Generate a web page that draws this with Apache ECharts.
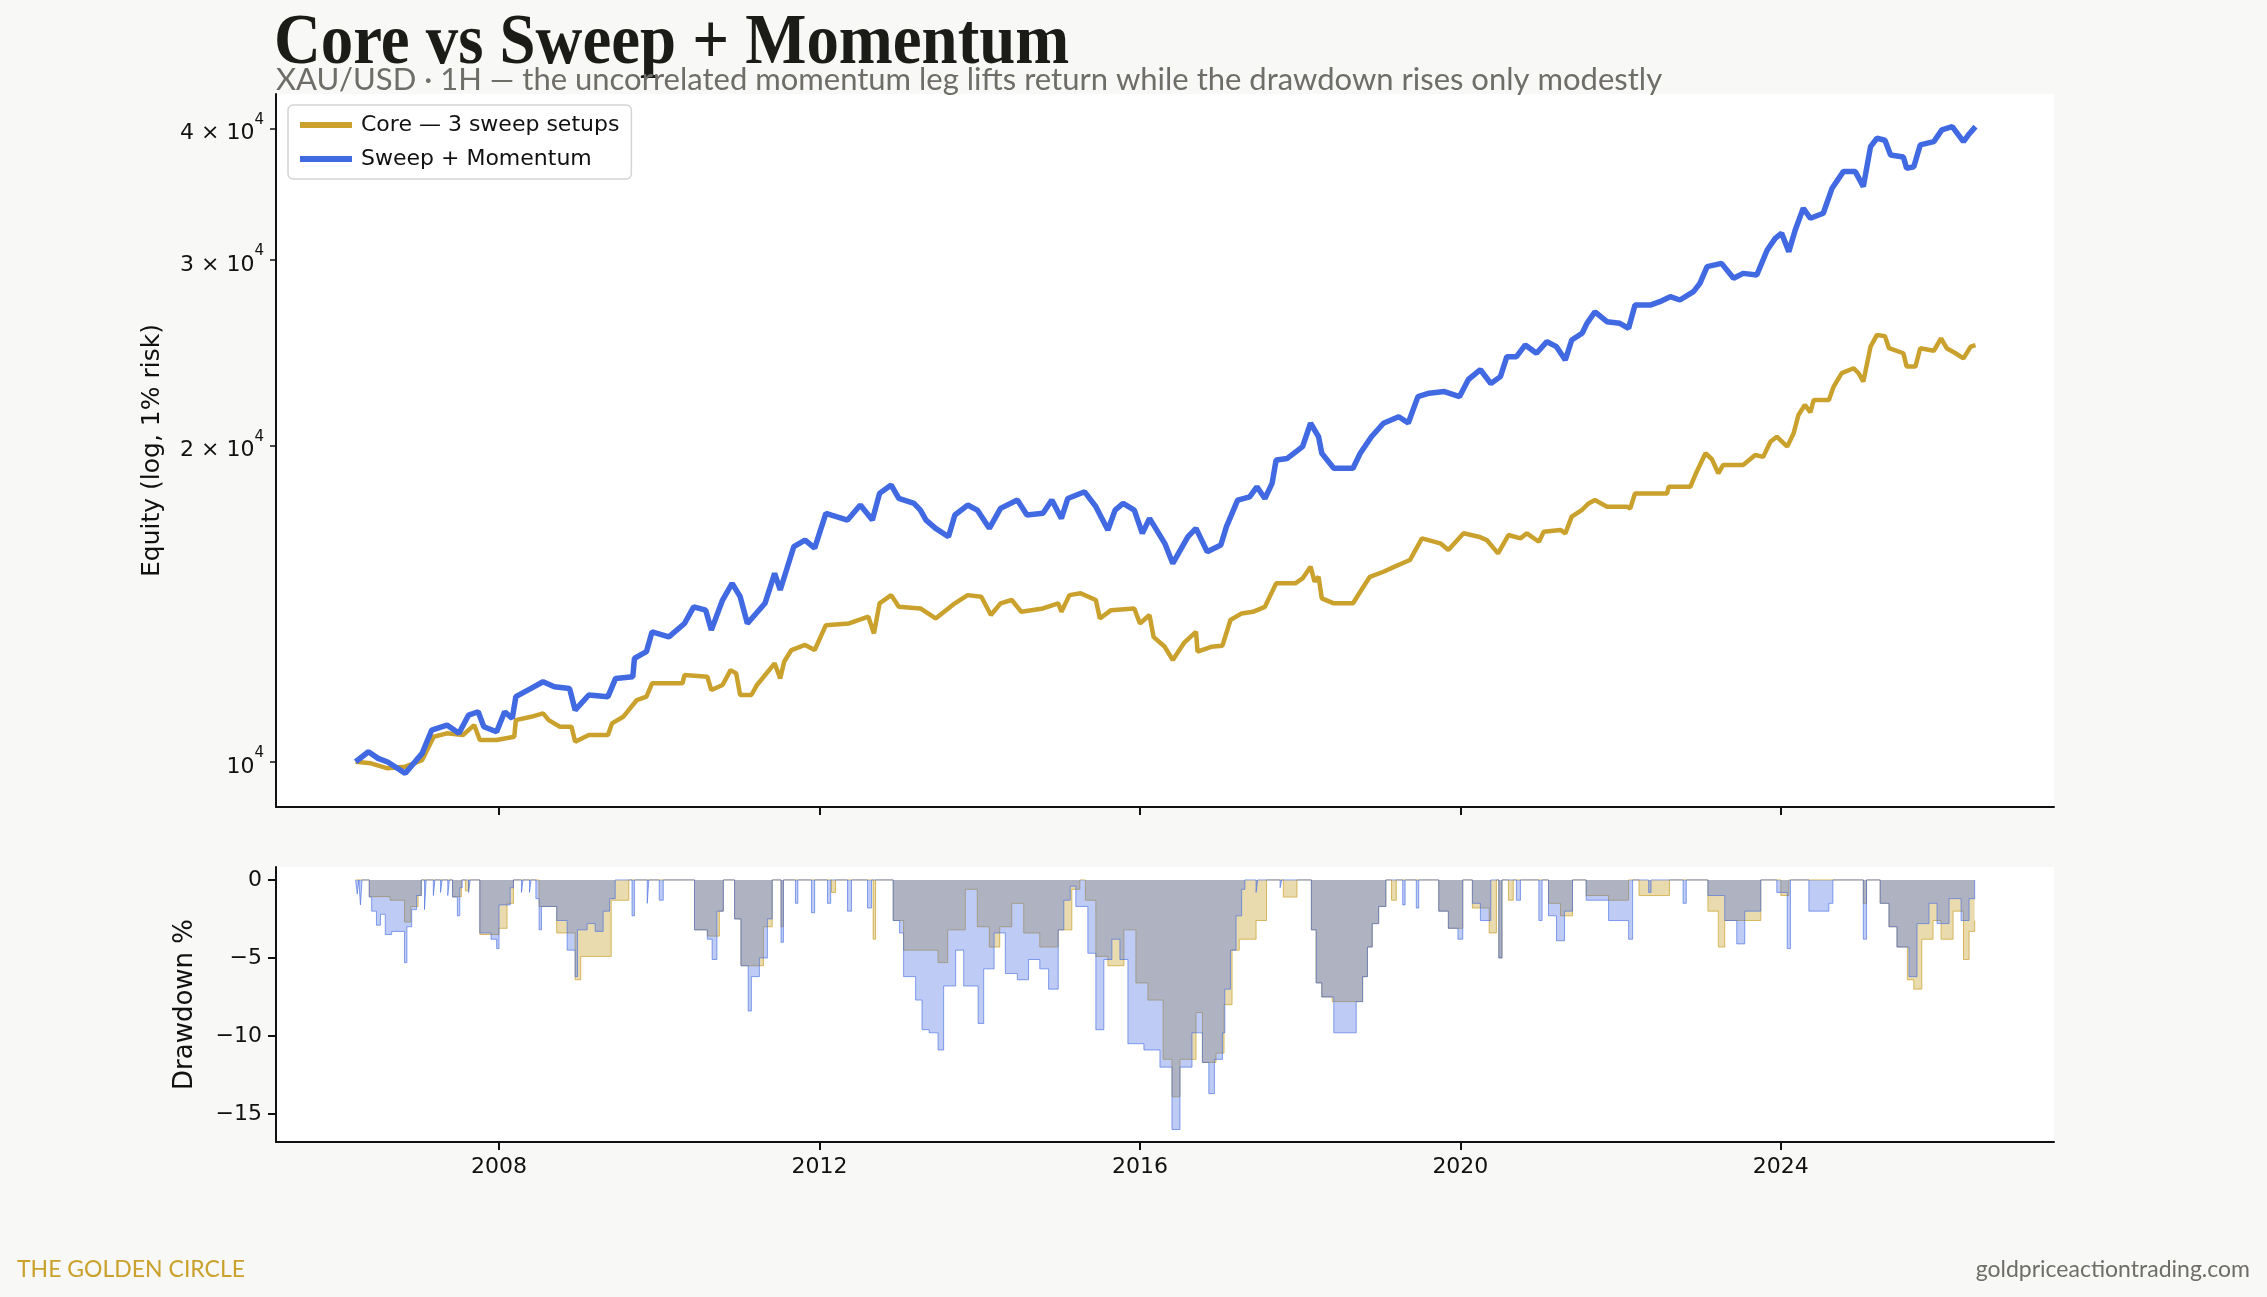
<!DOCTYPE html>
<html>
<head>
<meta charset="utf-8">
<script src="https://cdn.jsdelivr.net/npm/echarts@6/dist/echarts.min.js"></script>
<style>
  html, body { margin: 0; padding: 0; background: #f8f8f6; }
  #chart { width: 2267px; height: 1297px; }
</style>
</head>
<body>
<div id="chart"></div>
<script>
// Equity curves (decimal year, equity $)
const sweepYears = [2006.21, 2006.37, 2006.49, 2006.61, 2006.83, 2007.04, 2007.16, 2007.35, 2007.50, 2007.62, 2007.74, 2007.81, 2007.97, 2008.07, 2008.165, 2008.21, 2008.40, 2008.55, 2008.69, 2008.88, 2008.95, 2009.12, 2009.36, 2009.455, 2009.67, 2009.69, 2009.84, 2009.91, 2010.12, 2010.315, 2010.43, 2010.58, 2010.65, 2010.79, 2010.91, 2011.01, 2011.10, 2011.32, 2011.44, 2011.51, 2011.68, 2011.82, 2011.94, 2012.08, 2012.35, 2012.51, 2012.66, 2012.75, 2012.895, 2012.99, 2013.18, 2013.26, 2013.33, 2013.45, 2013.61, 2013.69, 2013.85, 2013.97, 2014.12, 2014.26, 2014.47, 2014.59, 2014.79, 2014.90, 2015.02, 2015.10, 2015.31, 2015.45, 2015.60, 2015.69, 2015.79, 2015.93, 2016.03, 2016.12, 2016.31, 2016.41, 2016.60, 2016.70, 2016.84, 2017.01, 2017.08, 2017.22, 2017.37, 2017.46, 2017.56, 2017.65, 2017.70, 2017.84, 2018.03, 2018.13, 2018.23, 2018.27, 2018.42, 2018.66, 2018.75, 2018.89, 2019.04, 2019.23, 2019.35, 2019.47, 2019.61, 2019.80, 2019.99, 2020.10, 2020.25, 2020.38, 2020.50, 2020.58, 2020.70, 2020.81, 2020.95, 2021.08, 2021.20, 2021.31, 2021.39, 2021.52, 2021.58, 2021.68, 2021.83, 2021.99, 2022.10, 2022.18, 2022.37, 2022.49, 2022.62, 2022.74, 2022.91, 2022.99, 2023.08, 2023.26, 2023.41, 2023.53, 2023.70, 2023.83, 2023.93, 2024.01, 2024.10, 2024.18, 2024.28, 2024.37, 2024.53, 2024.64, 2024.78, 2024.93, 2025.03, 2025.12, 2025.20, 2025.30, 2025.37, 2025.53, 2025.57, 2025.66, 2025.74, 2025.91, 2026.01, 2026.14, 2026.28, 2026.34, 2026.43];
const sweepEquity = [10006, 10228, 10081, 10000, 9756, 10192, 10725, 10843, 10649, 11083, 11164, 10803, 10686, 11164, 11003, 11538, 11749, 11921, 11791, 11749, 11205, 11580, 11538, 12009, 12053, 12545, 12731, 13299, 13153, 13543, 14046, 13943, 13348, 14256, 14786, 14361, 13543, 14154, 15111, 14574, 16027, 16255, 15968, 17234, 16982, 17550, 16982, 18004, 18336, 17805, 17614, 17358, 16982, 16677, 16376, 17172, 17550, 17358, 16677, 17422, 17742, 17172, 17234, 17742, 17045, 17805, 18066, 17486, 16616, 17358, 17614, 17358, 16497, 17045, 16140, 15446, 16376, 16677, 15845, 16081, 16739, 17742, 17870, 18266, 17805, 18403, 19372, 19435, 19944, 20991, 20380, 19657, 19024, 19024, 19657, 20380, 20991, 21292, 21000, 22251, 22420, 22500, 22251, 23100, 23600, 22900, 23246, 24284, 24284, 24914, 24466, 25093, 24822, 24107, 25186, 25559, 26121, 26792, 26218, 26121, 25837, 27189, 27189, 27390, 27690, 27491, 27997, 28510, 29571, 29785, 28828, 29140, 29040, 30672, 31463, 31813, 30560, 32042, 33601, 32875, 33240, 35112, 36411, 36411, 35233, 38455, 39163, 39000, 37757, 37600, 36672, 36800, 38597, 38883, 39890, 40177, 38883, 39446, 40177];

const coreYears = [2006.21, 2006.40, 2006.61, 2006.83, 2007.04, 2007.185, 2007.35, 2007.55, 2007.69, 2007.76, 2007.97, 2008.19, 2008.21, 2008.40, 2008.55, 2008.62, 2008.76, 2008.905, 2008.95, 2009.12, 2009.36, 2009.41, 2009.55, 2009.72, 2009.84, 2009.91, 2010.29, 2010.315, 2010.60, 2010.65, 2010.79, 2010.89, 2010.96, 2011.01, 2011.15, 2011.22, 2011.44, 2011.51, 2011.56, 2011.65, 2011.82, 2011.94, 2012.08, 2012.37, 2012.61, 2012.68, 2012.75, 2012.895, 2012.99, 2013.26, 2013.45, 2013.69, 2013.85, 2014.02, 2014.14, 2014.26, 2014.40, 2014.52, 2014.79, 2014.98, 2015.02, 2015.12, 2015.26, 2015.45, 2015.50, 2015.64, 2015.93, 2016.00, 2016.12, 2016.17, 2016.31, 2016.41, 2016.55, 2016.70, 2016.72, 2016.89, 2017.03, 2017.13, 2017.27, 2017.41, 2017.56, 2017.70, 2017.94, 2018.03, 2018.13, 2018.18, 2018.23, 2018.27, 2018.42, 2018.66, 2018.75, 2018.87, 2019.04, 2019.18, 2019.37, 2019.52, 2019.75, 2019.85, 2020.04, 2020.23, 2020.33, 2020.47, 2020.60, 2020.75, 2020.83, 2020.98, 2021.04, 2021.25, 2021.31, 2021.39, 2021.52, 2021.60, 2021.68, 2021.83, 2022.08, 2022.12, 2022.18, 2022.58, 2022.60, 2022.87, 2022.95, 2023.06, 2023.14, 2023.22, 2023.28, 2023.53, 2023.68, 2023.78, 2023.87, 2023.95, 2024.08, 2024.16, 2024.22, 2024.30, 2024.37, 2024.41, 2024.60, 2024.66, 2024.76, 2024.91, 2024.97, 2025.03, 2025.12, 2025.20, 2025.30, 2025.35, 2025.53, 2025.57, 2025.68, 2025.74, 2025.91, 2026.00, 2026.07, 2026.18, 2026.28, 2026.37, 2026.43];
const coreEquity = [10006, 9972, 9863, 9900, 10044, 10569, 10649, 10609, 10843, 10493, 10493, 10569, 10962, 11041, 11124, 10962, 10803, 10803, 10455, 10609, 10609, 10883, 11041, 11454, 11538, 11879, 11879, 12097, 12053, 11707, 11838, 12229, 12141, 11580, 11580, 11838, 12410, 12009, 12460, 12778, 12922, 12778, 13493, 13543, 13744, 13251, 14154, 14410, 14046, 13995, 13693, 14154, 14410, 14361, 13795, 14154, 14256, 13893, 13995, 14154, 13893, 14410, 14467, 14256, 13693, 13943, 13995, 13543, 13795, 13153, 12869, 12503, 12978, 13299, 12731, 12869, 12900, 13645, 13844, 13893, 14046, 14786, 14786, 14946, 15336, 14840, 15000, 14310, 14154, 14154, 14517, 15000, 15166, 15336, 15560, 16316, 16140, 15904, 16497, 16376, 16255, 15790, 16436, 16316, 16497, 16196, 16554, 16620, 16497, 17109, 17370, 17614, 17742, 17486, 17486, 17420, 18004, 18004, 18266, 18266, 18880, 19657, 19400, 18810, 19162, 19162, 19584, 19500, 20160, 20380, 19944, 20535, 21372, 21849, 21500, 22088, 22088, 22746, 23421, 23676, 23421, 22991, 24822, 25466, 25400, 24737, 24466, 23763, 23763, 24737, 24600, 25277, 24737, 24466, 24196, 24822, 24900];

// Drawdown from running peak, %
const sweepDDYears = [2006.21, 2006.23, 2006.25, 2006.27, 2006.29, 2006.38, 2006.41, 2006.47, 2006.52, 2006.58, 2006.66, 2006.82, 2006.85, 2006.91, 2006.97, 2007.03, 2007.07, 2007.09, 2007.18, 2007.20, 2007.27, 2007.29, 2007.36, 2007.38, 2007.42, 2007.48, 2007.51, 2007.54, 2007.62, 2007.64, 2007.76, 2007.90, 2007.97, 2008.00, 2008.14, 2008.18, 2008.28, 2008.30, 2008.38, 2008.40, 2008.46, 2008.50, 2008.53, 2008.72, 2008.85, 2008.95, 2008.98, 2009.10, 2009.20, 2009.30, 2009.38, 2009.45, 2009.66, 2009.69, 2009.85, 2009.87, 2010.00, 2010.05, 2010.44, 2010.60, 2010.66, 2010.72, 2010.80, 2010.94, 2011.02, 2011.11, 2011.15, 2011.25, 2011.35, 2011.41, 2011.52, 2011.55, 2011.70, 2011.73, 2011.90, 2011.94, 2012.10, 2012.14, 2012.35, 2012.40, 2012.60, 2012.65, 2012.92, 2013.00, 2013.05, 2013.20, 2013.28, 2013.37, 2013.48, 2013.55, 2013.70, 2013.80, 2013.98, 2014.05, 2014.18, 2014.32, 2014.47, 2014.61, 2014.75, 2014.86, 2014.98, 2015.05, 2015.13, 2015.20, 2015.35, 2015.45, 2015.55, 2015.65, 2015.75, 2015.85, 2016.05, 2016.25, 2016.40, 2016.50, 2016.65, 2016.78, 2016.86, 2016.93, 2017.03, 2017.06, 2017.13, 2017.20, 2017.27, 2017.31, 2017.45, 2017.47, 2017.75, 2017.77, 2018.14, 2018.20, 2018.27, 2018.42, 2018.70, 2018.78, 2018.84, 2018.90, 2018.98, 2019.07, 2019.28, 2019.31, 2019.45, 2019.48, 2019.73, 2019.85, 2019.97, 2020.03, 2020.15, 2020.25, 2020.38, 2020.48, 2020.52, 2020.70, 2020.75, 2020.98, 2021.02, 2021.10, 2021.20, 2021.30, 2021.40, 2021.57, 2021.85, 2022.10, 2022.15, 2022.35, 2022.38, 2022.78, 2022.82, 2023.09, 2023.30, 2023.45, 2023.55, 2023.75, 2023.95, 2024.08, 2024.12, 2024.35, 2024.60, 2024.65, 2025.03, 2025.07, 2025.24, 2025.35, 2025.45, 2025.60, 2025.70, 2025.85, 2025.95, 2026.10, 2026.25, 2026.35, 2026.42];
const sweepDD = [0, -0.9, 0, -1.6, 0, -1.1, -2.0, -2.9, -2.2, -3.5, -3.3, -5.3, -3.0, -1.9, -1.0, 0, -1.9, 0, -1.0, 0, -0.8, 0, -1.0, 0, -1.1, -2.3, -0.5, 0, -0.8, 0, -3.4, -3.8, -4.4, -1.6, -0.5, 0, -0.8, 0, -0.8, 0, -1.2, -3.2, -1.7, -2.6, -4.5, -6.2, -3.2, -2.8, -3.3, -2.0, -1.2, 0, -2.3, 0, -1.5, 0, -1.3, 0, -3.2, -3.8, -5.1, -2.0, 0, -2.5, -5.5, -8.4, -6.2, -5.0, -2.5, 0, -4.0, 0, -1.5, 0, -2.1, 0, -1.5, 0, -2.0, 0, -1.8, 0, -2.6, -3.4, -6.2, -7.7, -9.6, -9.8, -10.9, -6.8, -4.5, -6.8, -9.2, -5.7, -3.4, -6.0, -6.4, -5.1, -5.7, -7.0, -3.2, -1.3, -0.4, -1.7, -4.7, -9.6, -5.1, -3.8, -5.1, -10.5, -10.9, -12.0, -16.0, -12.0, -9.8, -11.7, -13.7, -11.5, -9.8, -7.0, -4.5, -2.3, -0.6, 0, -0.8, 0, -0.5, 0, -3.2, -6.6, -7.5, -9.8, -7.8, -6.2, -4.3, -2.8, -1.7, 0, -1.6, 0, -1.8, 0, -2.0, -3.1, -3.8, 0, -1.5, -2.6, 0, -5.0, 0, -1.3, 0, -2.6, 0, -2.3, -3.9, -2.0, 0, -1.3, -2.6, -3.8, 0, -0.8, 0, -1.5, 0, -1.0, -2.6, -4.1, -2.0, 0, -0.8, -4.4, 0, -2.0, -1.5, 0, -3.8, 0, -1.5, -3.0, -4.3, -6.2, -2.8, -1.5, -2.8, -1.2, -2.6, -1.2, 0];

const coreDDYears = [2006.21, 2006.38, 2006.64, 2006.82, 2006.90, 2006.99, 2007.03, 2007.42, 2007.53, 2007.58, 2007.62, 2007.76, 2008.00, 2008.10, 2008.18, 2008.50, 2008.72, 2008.95, 2009.02, 2009.40, 2009.62, 2010.44, 2010.60, 2010.75, 2010.80, 2010.94, 2011.02, 2011.30, 2011.41, 2011.52, 2011.55, 2012.15, 2012.20, 2012.67, 2012.70, 2012.92, 2013.05, 2013.48, 2013.60, 2013.82, 2013.97, 2014.12, 2014.25, 2014.40, 2014.55, 2014.75, 2014.98, 2015.15, 2015.25, 2015.32, 2015.45, 2015.60, 2015.80, 2015.95, 2016.10, 2016.29, 2016.40, 2016.50, 2016.70, 2016.78, 2016.95, 2017.05, 2017.15, 2017.24, 2017.45, 2017.58, 2017.79, 2017.96, 2018.14, 2018.20, 2018.27, 2018.40, 2018.78, 2018.84, 2018.90, 2018.98, 2019.07, 2019.14, 2019.20, 2019.73, 2019.85, 2020.03, 2020.15, 2020.36, 2020.45, 2020.48, 2020.52, 2020.60, 2020.66, 2021.10, 2021.25, 2021.40, 2021.57, 2021.85, 2022.10, 2022.23, 2022.61, 2023.09, 2023.22, 2023.30, 2023.50, 2023.75, 2024.00, 2024.10, 2025.03, 2025.07, 2025.24, 2025.35, 2025.45, 2025.58, 2025.66, 2025.76, 2025.90, 2026.00, 2026.15, 2026.28, 2026.35, 2026.42];
const coreDD = [0, -1.07, -1.3, -2.7, -1.7, -1.0, 0, -1.07, 0, -0.7, 0, -3.5, -3.1, -1.5, 0, -1.7, -3.4, -6.4, -4.9, -1.3, 0, -3.2, -3.6, -2.0, 0, -2.5, -5.5, -3.0, 0, -3.0, 0, -0.8, 0, -3.8, 0, -2.6, -4.5, -5.3, -3.2, -0.6, -3.0, -4.3, -3.0, -1.5, -3.4, -4.3, -3.2, -0.6, 0, -1.3, -4.9, -5.5, -3.2, -6.6, -7.7, -11.5, -13.9, -11.5, -8.5, -11.7, -11.1, -8.0, -4.5, -3.8, -2.6, 0, -1.1, 0, -3.2, -6.6, -7.5, -7.8, -6.2, -4.3, -2.8, -1.7, 0, -1.3, 0, -2.0, -3.1, 0, -1.8, -3.4, 0, -5.0, 0, -1.3, 0, -1.5, -2.3, 0, -1.0, -1.3, 0, -1.0, 0, -2.0, -4.3, -2.6, -2.6, 0, -1.0, 0, -1.5, 0, -1.5, -3.0, -4.3, -6.4, -7.0, -3.8, -2.6, -3.8, -2.0, -5.1, -3.3, -2.6];

const yearTicks = [2008, 2012, 2016, 2020, 2024];
const equityTicks = [10000, 20000, 30000, 40000];
const equityTickMantissa = ['10', '2 × 10', '3 × 10', '4 × 10'];
const ddTicks = [-15, -10, -5, 0];

const GOLD = '#c9a12c';
const BLUE = '#4169e1';
const INK = '#111111';
const FONT = 'DejaVu Sans';

const pairs = (xs, ys) => xs.map((x, i) => [x, ys[i]]);

const chart = echarts.init(document.getElementById('chart'), null, { renderer: 'canvas' });

const yearAxis = (gridIndex, showLabels) => ({
    type: 'value',
    gridIndex,
    min: 2005.216,
    max: 2027.41,
    splitLine: { show: false },
    axisLine: { show: true, onZero: false, lineStyle: { color: INK, width: 2 } },
    axisTick: { show: true, customValues: yearTicks, length: 8, lineStyle: { color: INK, width: 2 } },
    axisLabel: {
        show: showLabels,
        customValues: yearTicks,
        formatter: v => String(Math.round(v)),
        fontFamily: FONT,
        fontSize: 22,
        color: INK,
        margin: 14,
    },
});

const option = {
    animation: false,
    backgroundColor: '#f8f8f6',
    // condensed display title: a serif squeezed horizontally
    graphic: [
        {
            type: 'text',
            x: 274,
            y: 8,
            scaleX: 0.9,
            style: {
                text: 'Core vs Sweep + Momentum',
                font: 'bold 72px "Liberation Serif"',
                fill: '#1b1b18',
                textVerticalAlign: 'top',
            },
        },
    ],
    title: [
        {
            text: 'XAU/USD · 1H — the uncorrelated momentum leg lifts return while the drawdown rises only modestly',
            left: 276, top: 64, padding: 0,
            textStyle: { fontFamily: 'Lato', fontWeight: 'normal', fontSize: 31, color: '#6e6d68' },
        },
        {
            text: 'THE GOLDEN CIRCLE',
            left: 17, top: 1258, padding: 0,
            textStyle: { fontFamily: 'Lato', fontWeight: 'normal', fontSize: 23, color: '#c9a12c' },
        },
        {
            text: 'goldpriceactiontrading.com',
            right: 17, top: 1258, padding: 0,
            textStyle: { fontFamily: 'Lato', fontWeight: 'normal', fontSize: 23, color: '#6e6d68' },
        },
    ],
    legend: {
        data: [
            { name: 'Core — 3 sweep setups', icon: 'rect' },
            { name: 'Sweep + Momentum', icon: 'rect' },
        ],
        orient: 'vertical',
        left: 288,
        top: 105,
        itemWidth: 52,
        itemHeight: 6,
        itemGap: 12,
        padding: [9, 12, 9, 12],
        backgroundColor: '#ffffff',
        borderColor: '#d4d4d4',
        borderWidth: 1.5,
        borderRadius: 5,
        textStyle: { fontFamily: FONT, fontSize: 22, color: INK, padding: [0, 0, 0, 4] },
    },
    grid: [
        { left: 276, top: 94, width: 1778, height: 713, show: true, backgroundColor: '#ffffff', borderWidth: 0 },
        { left: 276, top: 867, width: 1778, height: 275, show: true, backgroundColor: '#ffffff', borderWidth: 0 },
    ],
    xAxis: [yearAxis(0, false), yearAxis(1, true)],
    yAxis: [
        {
            type: 'log',
            logBase: 10,
            gridIndex: 0,
            min: 9063,
            max: 43150,
            name: 'Equity (log, 1% risk)',
            nameLocation: 'middle',
            nameGap: 111,
            nameTextStyle: { fontFamily: FONT, fontSize: 25, color: INK },
            splitLine: { show: false },
            minorTick: { show: false },
            axisLine: { show: true, lineStyle: { color: INK, width: 2 } },
            axisTick: { show: true, customValues: equityTicks, length: 6, lineStyle: { color: INK, width: 1.5 } },
            axisLabel: {
                customValues: equityTicks,
                margin: 12,
                formatter: v => {
                    const i = equityTicks.findIndex(t => Math.abs(t - v) < 1);
                    return i < 0 ? '' : '{m|' + equityTickMantissa[i] + '}{e|4}';
                },
                rich: {
                    m: { fontFamily: FONT, fontSize: 22, color: INK, lineHeight: 32, verticalAlign: 'bottom' },
                    e: { fontFamily: FONT, fontSize: 15, color: INK, lineHeight: 32, verticalAlign: 'top' },
                },
            },
        },
        {
            type: 'value',
            gridIndex: 1,
            min: -16.8,
            max: 0.83,
            name: 'Drawdown %',
            nameLocation: 'middle',
            nameGap: 78,
            nameTextStyle: { fontFamily: FONT, fontSize: 26, color: INK },
            splitLine: { show: false },
            axisLine: { show: true, onZero: false, lineStyle: { color: INK, width: 2 } },
            axisTick: { show: true, customValues: ddTicks, length: 8, lineStyle: { color: INK, width: 2 } },
            axisLabel: {
                customValues: ddTicks,
                margin: 14,
                formatter: v => (v < 0 ? '\u2212' + Math.abs(v) : String(v)),
                fontFamily: FONT,
                fontSize: 22,
                color: INK,
            },
        },
    ],
    series: [
        {
            name: 'Core — 3 sweep setups',
            type: 'line',
            xAxisIndex: 0, yAxisIndex: 0,
            data: pairs(coreYears, coreEquity),
            symbol: 'none',
            itemStyle: { color: GOLD },
            lineStyle: { color: GOLD, width: 4.5 },
            z: 2,
        },
        {
            name: 'Sweep + Momentum',
            type: 'line',
            xAxisIndex: 0, yAxisIndex: 0,
            data: pairs(sweepYears, sweepEquity),
            symbol: 'none',
            itemStyle: { color: BLUE },
            lineStyle: { color: BLUE, width: 5.5 },
            z: 3,
        },
        {
            name: 'core-dd',
            type: 'line',
            step: 'end',
            xAxisIndex: 1, yAxisIndex: 1,
            data: pairs(coreDDYears, coreDD),
            symbol: 'none',
            lineStyle: { color: GOLD, width: 1, opacity: 0.7 },
            areaStyle: { color: GOLD, opacity: 0.38, origin: 'auto' },
            z: 2,
        },
        {
            name: 'sweep-dd',
            type: 'line',
            step: 'end',
            xAxisIndex: 1, yAxisIndex: 1,
            data: pairs(sweepDDYears, sweepDD),
            symbol: 'none',
            lineStyle: { color: BLUE, width: 1, opacity: 0.6 },
            areaStyle: { color: BLUE, opacity: 0.35, origin: 'auto' },
            z: 3,
        },
    ],
};

chart.setOption(option);
</script>
</body>
</html>
